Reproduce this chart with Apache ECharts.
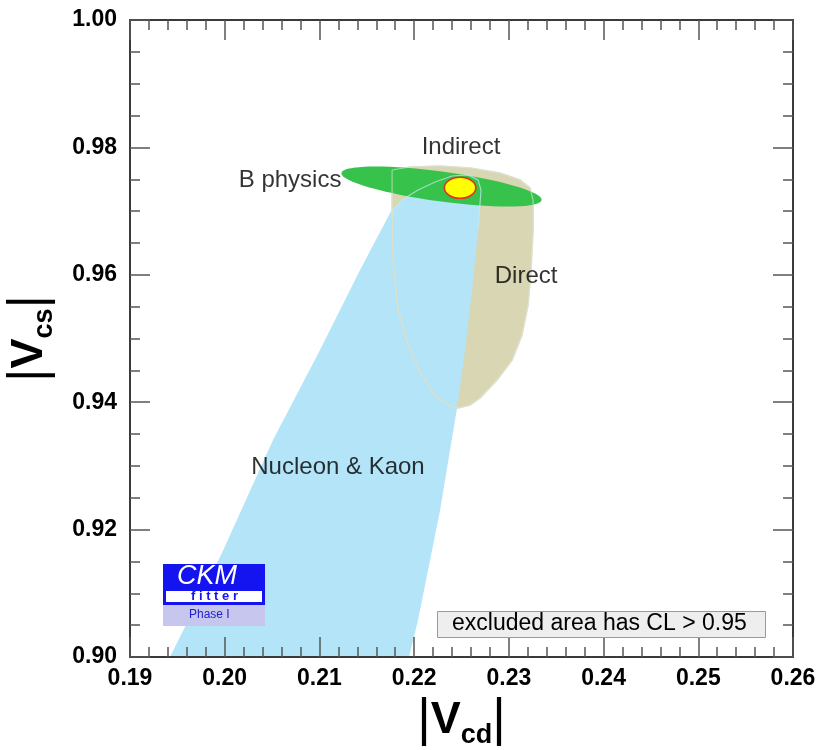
<!DOCTYPE html>
<html><head><meta charset="utf-8">
<script src="https://cdn.jsdelivr.net/npm/echarts@6/dist/echarts.min.js"></script>
<style>html,body{margin:0;padding:0;background:#fff}#c{width:819px;height:750px}</style>
</head><body><div id="c"></div>
<script>
// ---- data (|Vcd|, |Vcs|) ----
const nucleonKaonX = [0.19422,0.19971,0.20510,0.21006,0.21429,0.21746,0.21872,0.22041,0.22221,0.22400,0.22569,0.22675,0.22706,0.22675,0.22611,0.22537,0.22453,0.22379,0.22274,0.22147,0.22041,0.21946];
const nucleonKaonY = [0.90000,0.91633,0.93407,0.94819,0.96075,0.96970,0.97174,0.97331,0.97457,0.97551,0.97567,0.97488,0.97331,0.96703,0.95761,0.94819,0.93909,0.93250,0.92308,0.91366,0.90581,0.90000];
const directX = [0.21767,0.21957,0.22274,0.22590,0.22907,0.23118,0.23224,0.23256,0.23256,0.23234,0.23203,0.23139,0.23034,0.22875,0.22696,0.22590,0.22464,0.22379,0.22221,0.22062,0.21936,0.21830,0.21777,0.21767];
const directY = [0.97645,0.97692,0.97708,0.97677,0.97598,0.97488,0.97363,0.97174,0.96703,0.96075,0.95526,0.95055,0.94662,0.94348,0.94066,0.93956,0.93909,0.93940,0.94113,0.94474,0.94898,0.95447,0.96232,0.97096];
const bPhysicsTipX = [0.21232, 0.23346];
const bPhysicsTipY = [0.97598, 0.97174];
const bPhysicsHalfWidth = 0.00235;
const indirectCenter = [0.22485, 0.97366];
const indirectRadii = [0.00166, 0.00165];
const regionLabels = ['Indirect', 'B physics', 'Direct', 'Nucleon & Kaon'];
const regionLabelX = [0.22495, 0.20690, 0.23182, 0.21196];
const regionLabelY = [0.98006, 0.97488, 0.95981, 0.92983];
const xRange = [0.19, 0.26];
const yRange = [0.90, 1.00];

const FONT = 'Liberation Sans, Arial, Helvetica, sans-serif';

function polygonSeries(xs, ys, style, z) {
  return {
    type: 'custom', coordinateSystem: 'cartesian2d', clip: true, silent: true, animation: false, z: z,
    data: [[xs[0], ys[0]]],
    renderItem: (p, api) => ({
      type: 'polygon',
      shape: { points: xs.map((x, i) => api.coord([x, ys[i]])) },
      style: style
    })
  };
}
function outlineSeries(xs, ys, style, z, closed) {
  return {
    type: 'custom', coordinateSystem: 'cartesian2d', clip: true, silent: true, animation: false, z: z,
    data: [[xs[0], ys[0]]],
    renderItem: (p, api) => {
      const pts = xs.map((x, i) => api.coord([x, ys[i]]));
      if (closed) pts.push(pts[0]);
      return { type: 'polyline', shape: { points: pts }, style: Object.assign({ fill: null }, style) };
    }
  };
}

const axisBase = {
  type: 'value', z: 10,
  axisLine: { show: true, onZero: false, lineStyle: { color: '#3a3a3a', width: 2 } },
  axisTick: { show: true, inside: true, length: 20, lineStyle: { color: '#555', width: 1.5 } },
  minorTick: { show: true, length: 10, lineStyle: { color: '#555', width: 1.5 } },
  splitLine: { show: false }, minorSplitLine: { show: false }
};
const labelStyle = { color: '#000', fontWeight: 'bold', fontSize: 23, fontFamily: FONT };
const nameRich = {
  b: { fontSize: 52, fontWeight: 'normal', lineHeight: 56, fontFamily: FONT, color: '#000' },
  v: { fontSize: 45, fontWeight: 'bold', lineHeight: 56, fontFamily: FONT, color: '#000' },
  s: { fontSize: 27, fontWeight: 'bold', lineHeight: 22, verticalAlign: 'bottom', fontFamily: FONT, color: '#000' }
};

const chart = echarts.init(document.getElementById('c'), null, { renderer: 'canvas' });
chart.setOption({
  animation: false,
  backgroundColor: '#fff',
  grid: { left: 130, right: 26, top: 20, bottom: 93, containLabel: false, outerBoundsMode: 'none' },
  xAxis: [
    Object.assign({}, axisBase, {
      min: xRange[0], max: xRange[1], interval: 0.01, position: 'bottom',
      minorTick: Object.assign({}, axisBase.minorTick, { splitNumber: 5 }),
      axisLabel: Object.assign({}, labelStyle, { margin: 10, formatter: v => v.toFixed(2) }),
      name: '{b||}{v|V}{s|cd}{b||}', nameLocation: 'middle', nameGap: 32,
      nameTextStyle: { rich: nameRich }
    }),
    Object.assign({}, axisBase, {
      min: xRange[0], max: xRange[1], interval: 0.01, position: 'top',
      minorTick: Object.assign({}, axisBase.minorTick, { splitNumber: 5 }),
      axisLabel: { show: false }
    })
  ],
  yAxis: [
    Object.assign({}, axisBase, {
      min: yRange[0], max: yRange[1], interval: 0.02, position: 'left',
      minorTick: Object.assign({}, axisBase.minorTick, { splitNumber: 4 }),
      axisLabel: Object.assign({}, labelStyle, { margin: 13, formatter: v => v.toFixed(2) }),
      name: '{b||}{v|V}{s|cs}{b||}', nameLocation: 'middle', nameGap: 72,
      nameTextStyle: { rich: nameRich }
    }),
    Object.assign({}, axisBase, {
      min: yRange[0], max: yRange[1], interval: 0.02, position: 'right',
      minorTick: Object.assign({}, axisBase.minorTick, { splitNumber: 4 }),
      axisLabel: { show: false }
    })
  ],
  series: [
    polygonSeries(directX, directY, { fill: '#d9d6b3' }, 1),
    polygonSeries(nucleonKaonX, nucleonKaonY, { fill: '#b3e4f8' }, 2),
    outlineSeries(directX, directY, { stroke: 'rgba(214,216,190,0.95)', lineWidth: 1.5 }, 3, true),
    {
      type: 'custom', coordinateSystem: 'cartesian2d', clip: true, silent: true, animation: false, z: 4,
      data: [[bPhysicsTipX[0], bPhysicsTipY[0]]],
      renderItem: (p, api) => {
        const a = api.coord([bPhysicsTipX[0], bPhysicsTipY[0]]);
        const b = api.coord([bPhysicsTipX[1], bPhysicsTipY[1]]);
        const rx = Math.hypot(b[0] - a[0], b[1] - a[1]) / 2;
        const ry = api.size([0, bPhysicsHalfWidth])[1];
        const ang = Math.atan2(b[1] - a[1], b[0] - a[0]);
        return { type: 'ellipse', x: (a[0] + b[0]) / 2, y: (a[1] + b[1]) / 2, rotation: -ang,
          shape: { cx: 0, cy: 0, rx: rx, ry: ry }, style: { fill: '#37c24b' } };
      }
    },
    outlineSeries(directX, directY, { stroke: 'rgba(225,232,215,0.6)', lineWidth: 1.2 }, 5, true),
    outlineSeries(nucleonKaonX.slice(5, 14), nucleonKaonY.slice(5, 14), { stroke: 'rgba(200,235,245,0.7)', lineWidth: 1.2 }, 5, false),
    {
      type: 'custom', coordinateSystem: 'cartesian2d', clip: true, silent: true, animation: false, z: 6,
      data: [indirectCenter],
      renderItem: (p, api) => {
        const c = api.coord(indirectCenter);
        const s = api.size(indirectRadii);
        return { type: 'ellipse', shape: { cx: c[0], cy: c[1], rx: s[0], ry: s[1] },
          style: { fill: '#ffff00', stroke: '#e2321e', lineWidth: 1.6 } };
      }
    },
    {
      type: 'scatter', symbolSize: 0, z: 7, silent: true, animation: false,
      data: regionLabels.map((n, i) => ({ name: n, value: [regionLabelX[i], regionLabelY[i]] })),
      label: { show: true, position: 'inside', formatter: '{b}', color: '#000', fontSize: 24, fontFamily: FONT }
    }
  ],
  graphic: [
    { type: 'rect', left: 437, top: 611, z: 20, shape: { width: 328, height: 26 },
      style: { fill: '#eeeeee', stroke: '#9a9a9a', lineWidth: 1 } },
    { type: 'text', left: 452, top: 612, z: 21,
      style: { text: 'excluded area has CL > 0.95', fontSize: 23, fontFamily: FONT, fill: '#000' } },
    { type: 'rect', left: 163, top: 564, z: 20, shape: { width: 102, height: 41 }, style: { fill: '#1414f0' } },
    { type: 'text', left: 177, top: 563, z: 21,
      style: { text: 'CKM', fontSize: 27, fontStyle: 'italic', fontFamily: FONT, fill: '#ffffff' } },
    { type: 'rect', left: 166, top: 591, z: 21, shape: { width: 96, height: 11 }, style: { fill: '#ffffff' } },
    { type: 'text', left: 191, top: 590, z: 22,
      style: { text: 'f i t t e r', fontSize: 13, fontWeight: 'bold', fontFamily: FONT, fill: '#1414f0' } },
    { type: 'rect', left: 163, top: 605, z: 20, shape: { width: 102, height: 21 }, style: { fill: '#c6c6ee' } },
    { type: 'text', left: 189, top: 609, z: 21,
      style: { text: 'Phase I', fontSize: 12, fontFamily: FONT, fill: '#2020d0' } }
  ]
});
</script></body></html>
